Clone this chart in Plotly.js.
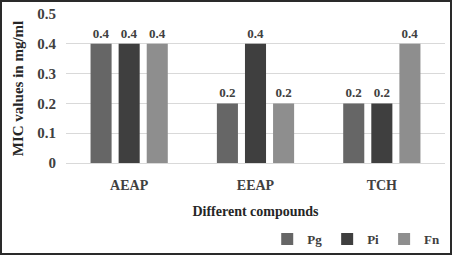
<!DOCTYPE html>
<html><head><meta charset="utf-8">
<script src="https://cdn.plot.ly/plotly-3.0.1.min.js"></script>
<style>
html,body{margin:0;padding:0;background:#fff;}
#chart{width:452px;height:255px;}
#frame{position:absolute;left:0;top:0;width:452px;height:255px;box-sizing:border-box;border:2px solid #2a2a2a;pointer-events:none;}
</style></head>
<body>
<div id="chart"></div>
<div id="frame"></div>
<script>
const categories = ["AEAP", "EEAP", "TCH"];
const seriesNames = ["Pg", "Pi", "Fn"];
const pgValues = [0.4, 0.2, 0.2];
const piValues = [0.4, 0.4, 0.2];
const fnValues = [0.4, 0.2, 0.4];
const yTickValues = [0, 0.1, 0.2, 0.3, 0.4, 0.5];
const yTickLabels = ["0", "0.1", "0.2", "0.3", "0.4", "0.5"];

const colors = ["#666666", "#3f3f3f", "#8e8e8e"];
const font = "'Liberation Serif', 'Times New Roman', serif";
const allValues = [pgValues, piValues, fnValues];

const traces = allValues.map((vals, i) => ({
  type: "bar",
  name: "<b>" + seriesNames[i] + "</b>",
  x: categories,
  y: vals,
  marker: {color: colors[i]},
  text: vals.map(v => "<b>" + v.toFixed(1) + "</b>"),
  textposition: "outside",
  cliponaxis: false,
  textfont: {family: font, size: 13, color: "#404040"},
  hoverinfo: "none"
}));

const layout = {
  width: 452, height: 255,
  margin: {l: 66, r: 7, t: 14, b: 92},
  paper_bgcolor: "#fff", plot_bgcolor: "#fff",
  barmode: "group",
  bargap: 0.333,
  bargroupgap: 0.25,
  showlegend: true,
  legend: {orientation: "h", xref: "container", yref: "container",
           x: 0.985, xanchor: "right", y: 0.063, yanchor: "middle",
           font: {family: font, size: 13, color: "#404040"},
           itemwidth: 30, tracegroupgap: 0},
  font: {family: font, color: "#404040"},
  xaxis: {
    automargin: false,
    tickvals: categories,
    ticktext: categories.map(c => "<b>" + c + "</b>"),
    showgrid: false, zeroline: false, showline: false,
    ticks: "outside", ticklen: 9, tickcolor: "rgba(0,0,0,0)",
    tickfont: {family: font, size: 14, color: "#404040"},
    title: {text: "<b>Different compounds</b>", font: {family: font, size: 14, color: "#262626"}, standoff: 14}
  },
  yaxis: {
    automargin: false,
    range: [0, 0.5], tickvals: yTickValues, ticktext: yTickLabels.map(t => "<b>" + t + "</b>"),
    showgrid: true, gridcolor: "#d9d9d9", gridwidth: 1,
    zeroline: true, zerolinecolor: "#d9d9d9", showline: false, ticks: "",
    ticklabelstandoff: 9,
    tickfont: {family: font, size: 15, color: "#404040"},
    title: {text: "<b>MIC values in mg/ml</b>", font: {family: font, size: 15, color: "#262626"}, standoff: 10}
  }
};

Plotly.newPlot("chart", traces, layout, {staticPlot: true, displayModeBar: false});
</script>
</body></html>
